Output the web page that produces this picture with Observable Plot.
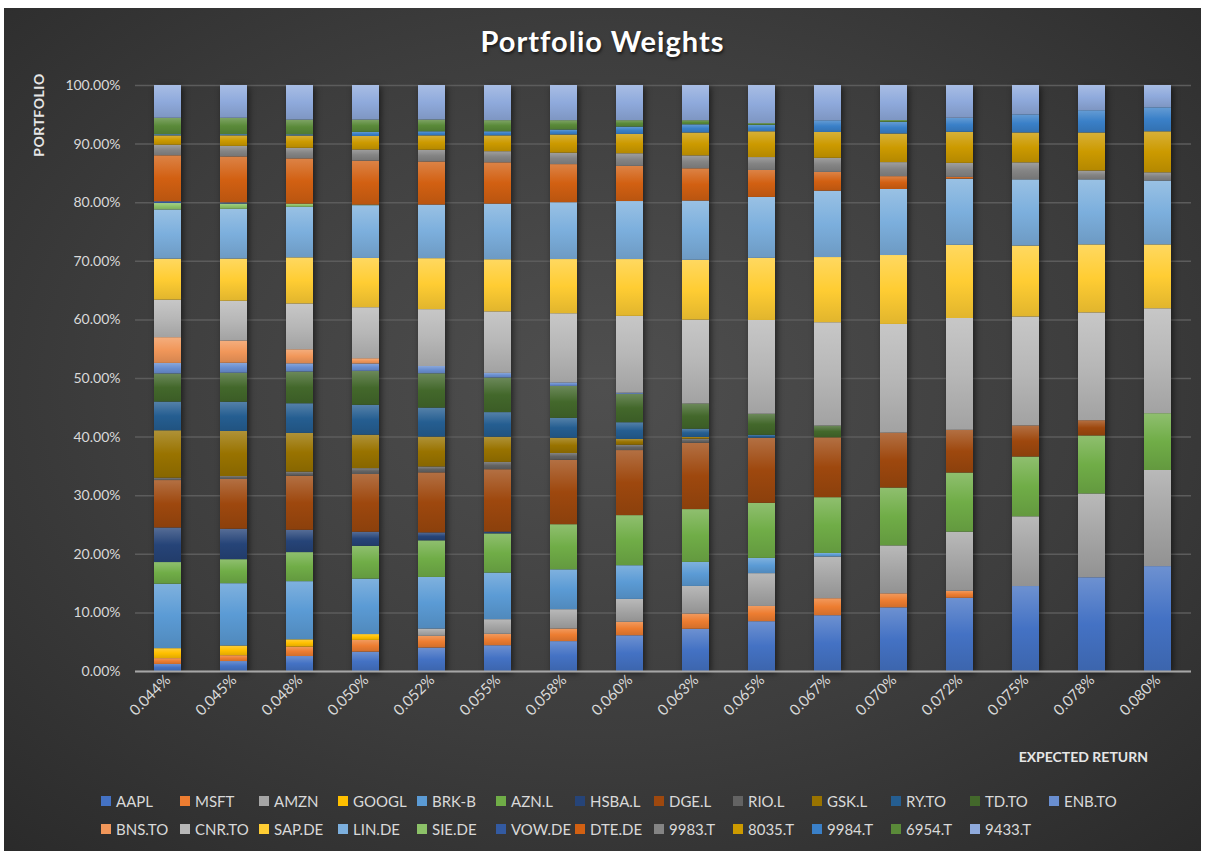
<!DOCTYPE html>
<html><head><meta charset="utf-8">
<script src="https://cdn.jsdelivr.net/npm/d3@7"></script>
<script src="https://cdn.jsdelivr.net/npm/@observablehq/plot@0.6"></script>
<style>
html,body{margin:0;padding:0;background:#fff;}
body{width:1205px;height:855px;position:relative;overflow:hidden;font-family:Lato,"Open Sans",sans-serif;}
#bg{position:absolute;left:4px;top:8px;width:1197px;height:843px;background:radial-gradient(ellipse 75% 75% at 50% 45%, #4f4f4f 0%, #3d3d3d 55%, #2a2a2a 100%);}
#title{position:absolute;left:0;width:1205px;top:23px;text-align:center;color:#fff;font-weight:700;font-size:29px;letter-spacing:1px;text-shadow:1px 2px 3px rgba(0,0,0,.6);}
#ylab{position:absolute;left:38px;top:115px;transform:translate(-50%,-50%) rotate(-90deg);color:#e6e6e6;font-weight:700;font-size:14px;letter-spacing:0.5px;white-space:nowrap;}
#xlab{position:absolute;right:57px;top:748px;color:#e6e6e6;font-weight:700;font-size:14px;white-space:nowrap;}
#chart{position:absolute;left:0;top:0;}
#chart svg g[aria-label="bar"]{filter:drop-shadow(2px 2px 3px rgba(0,0,0,0.55));}
.li{position:absolute;display:flex;align-items:center;color:#d9d9d9;font-size:15px;white-space:nowrap;}
.li span.sw{display:inline-block;width:10px;height:10px;margin-right:5px;}
</style></head>
<body>
<div id="bg"></div>
<div id="title">Portfolio Weights</div>
<div id="ylab">PORTFOLIO</div>
<div id="xlab">EXPECTED RETURN</div>
<div id="chart"></div>
<div id="legend"></div>
<svg width="0" height="0" style="position:absolute"><defs id="defs"></defs></svg>
<script>
const tickers = ["AAPL","MSFT","AMZN","GOOGL","BRK-B","AZN.L","HSBA.L","DGE.L","RIO.L","GSK.L","RY.TO","TD.TO","ENB.TO","BNS.TO","CNR.TO","SAP.DE","LIN.DE","SIE.DE","VOW.DE","DTE.DE","9983.T","8035.T","9984.T","6954.T","9433.T"];
const colors = ["#4472C4","#ED7D31","#A5A5A5","#FFC000","#5B9BD5","#70AD47","#264478","#9E480E","#636363","#997300","#255E91","#43682B","#698ED0","#F1975A","#B7B7B7","#FFCD33","#7CAFDD","#8CC168","#335AA1","#D26012","#848484","#CC9A00","#3A80C8","#5A8A39","#8FAADC"];
const returns = ["0.044%","0.045%","0.048%","0.050%","0.052%","0.055%","0.058%","0.060%","0.063%","0.065%","0.067%","0.070%","0.072%","0.075%","0.078%","0.080%"];
const yTicks = [0,0.1,0.2,0.3,0.4,0.5,0.6,0.7,0.8,0.9,1.0];

// weights (%) per expected return, in ticker order
const w044 = [1.2,1.0,0,1.7,11.0,3.7,5.9,8.1,0.4,8.1,4.9,4.8,1.8,4.4,6.4,7.0,8.4,1.1,0.3,7.85,1.8,1.6,0.2,2.8,5.6];
const w045 = [1.7,1.0,0,1.65,10.65,4.1,5.2,8.5,0.5,7.7,5.0,4.95,1.7,3.8,6.8,7.2,8.5,0.9,0.2,7.85,1.8,1.8,0.2,2.8,5.6];
const w048 = [2.55,1.6,0,1.25,9.9,4.95,3.8,9.2,0.7,6.6,5.05,5.4,1.4,2.4,7.8,7.85,8.6,0.55,0,7.7,1.8,2.1,0.2,2.5,5.9];
const w050 = [3.3,2.0,0,1.0,9.45,5.6,2.4,9.85,1.0,5.7,5.1,5.8,1.25,0.9,8.7,8.4,9.0,0.1,0,7.5,1.9,2.3,0.7,2.1,5.9];
const w052 = [4.0,2.0,1.25,0,8.8,6.25,1.35,10.25,1.0,5.1,4.95,5.85,1.25,0,9.7,8.7,9.15,0,0,7.35,2.0,2.45,0.7,2.0,5.9];
const w055 = [4.4,1.95,2.5,0,7.95,6.7,0.3,10.65,1.25,4.3,4.2,5.9,0.8,0,10.5,8.9,9.5,0,0,7.05,1.9,2.7,0.7,1.9,6.0];
const w058 = [5.1,2.15,3.3,0,6.8,7.7,0,11.0,1.15,2.6,3.4,5.45,0.6,0,11.8,9.25,9.7,0,0,6.5,1.95,3.1,0.85,1.6,6.0];
const w060 = [6.1,2.3,3.9,0,5.75,8.55,0,11.1,0.9,1.0,2.85,4.85,0.2,0,13.1,9.7,9.9,0,0,6.0,2.15,3.3,1.25,1.1,6.0];
const w063 = [7.2,2.6,4.7,0,4.1,9.0,0,11.3,0.7,0.3,1.4,4.3,0,0,14.3,10.2,10.1,0,0,5.5,2.2,3.9,1.4,0.7,6.0];
const w065 = [8.5,2.6,5.6,0,2.6,9.4,0,11.1,0,0,0.5,3.6,0,0,16.0,10.6,10.4,0,0,4.6,2.2,4.4,1.1,0.3,6.5];
const w067 = [9.5,2.9,7.1,0,0.6,9.5,0,10.2,0,0,0,2.0,0,0,17.6,11.1,11.3,0,0,3.2,2.4,4.4,2.0,0,6.0];
const w070 = [10.9,2.4,8.2,0,0,9.9,0,9.4,0,0,0,0,0,0,18.6,11.8,11.3,0,0,2.2,2.4,4.9,2.0,0.3,6.0];
const w072 = [12.5,1.2,10.1,0,0,10.1,0,7.3,0,0,0,0,0,0,19.1,12.5,11.3,0,0,0.3,2.4,5.3,2.4,0,5.6];
const w075 = [14.5,0,11.9,0,0,10.2,0,5.3,0,0,0,0,0,0,18.6,12.1,11.3,0,0,0,2.9,5.1,3.1,0,5.0];
const w078 = [16.0,0,14.3,0,0,9.9,0,2.6,0,0,0,0,0,0,18.4,11.6,11.1,0,0,0,1.5,6.5,3.8,0,4.3];
const w080 = [17.9,0,16.4,0,0,9.7,0,0,0,0,0,0,0,0,17.9,10.9,10.9,0,0,0,1.4,7.0,4.1,0,3.8];
const weightsByReturn = [w044,w045,w048,w050,w052,w055,w058,w060,w063,w065,w067,w070,w072,w075,w078,w080];

// gradients for the bar segments
const defs = document.getElementById("defs");
colors.forEach((c, i) => {
  const top = d3.interpolateRgb(c, "#ffffff")(0.22);
  const bot = d3.rgb(c).darker(0.35).formatHex();
  defs.insertAdjacentHTML("beforeend",
    `<linearGradient id="g${i}" x1="0" y1="0" x2="0" y2="1"><stop offset="0" stop-color="${top}"/><stop offset="0.5" stop-color="${c}"/><stop offset="1" stop-color="${bot}"/></linearGradient>`);
});

const rows = [];
returns.forEach((r, j) => tickers.forEach((t, i) => rows.push({ret: r, ticker: t, w: weightsByReturn[j][i] / 100})));

const chart = Plot.plot({
  width: 1205, height: 760,
  marginLeft: 135, marginRight: 14, marginTop: 85, marginBottom: 89,
  style: {background: "transparent", color: "#d9d9d9", fontFamily: "Lato, 'Open Sans', sans-serif", fontSize: "15px", overflow: "visible"},
  x: {domain: returns, paddingInner: 0.59, paddingOuter: 0.295, label: null},
  y: {domain: [0, 1], label: null},
  color: {domain: tickers, range: tickers.map((t, i) => `url(#g${i})`)},
  marks: [
    Plot.gridY(yTicks, {stroke: "#5c5c5c", strokeOpacity: 1, strokeWidth: 1.5}),
    Plot.barY(rows, {x: "ret", y: "w", fill: "ticker", offset: "normalize"}),
    Plot.ruleY([0], {stroke: "#a6a6a6", strokeWidth: 2}),
    Plot.axisY({ticks: yTicks, tickFormat: d => (d * 100).toFixed(2) + "%", tickSize: 0, tickPadding: 15, label: null, fill: "#d9d9d9", fontSize: 14}),
    Plot.axisX({tickRotate: -45, tickSize: 0, tickPadding: 6, label: null, fill: "#d9d9d9"})
  ]
});
document.getElementById("chart").appendChild(chart);

// legend
const leg = document.getElementById("legend");
tickers.forEach((t, i) => {
  const row = i < 13 ? 0 : 1, col = i < 13 ? i : i - 13;
  const d = document.createElement("div");
  d.className = "li";
  d.style.left = (101 + col * 79) + "px";
  d.style.top = (row === 0 ? 792 : 820) + "px";
  d.innerHTML = `<span class="sw" style="background:${colors[i]}"></span>${t}`;
  leg.appendChild(d);
});
</script>
</body></html>
